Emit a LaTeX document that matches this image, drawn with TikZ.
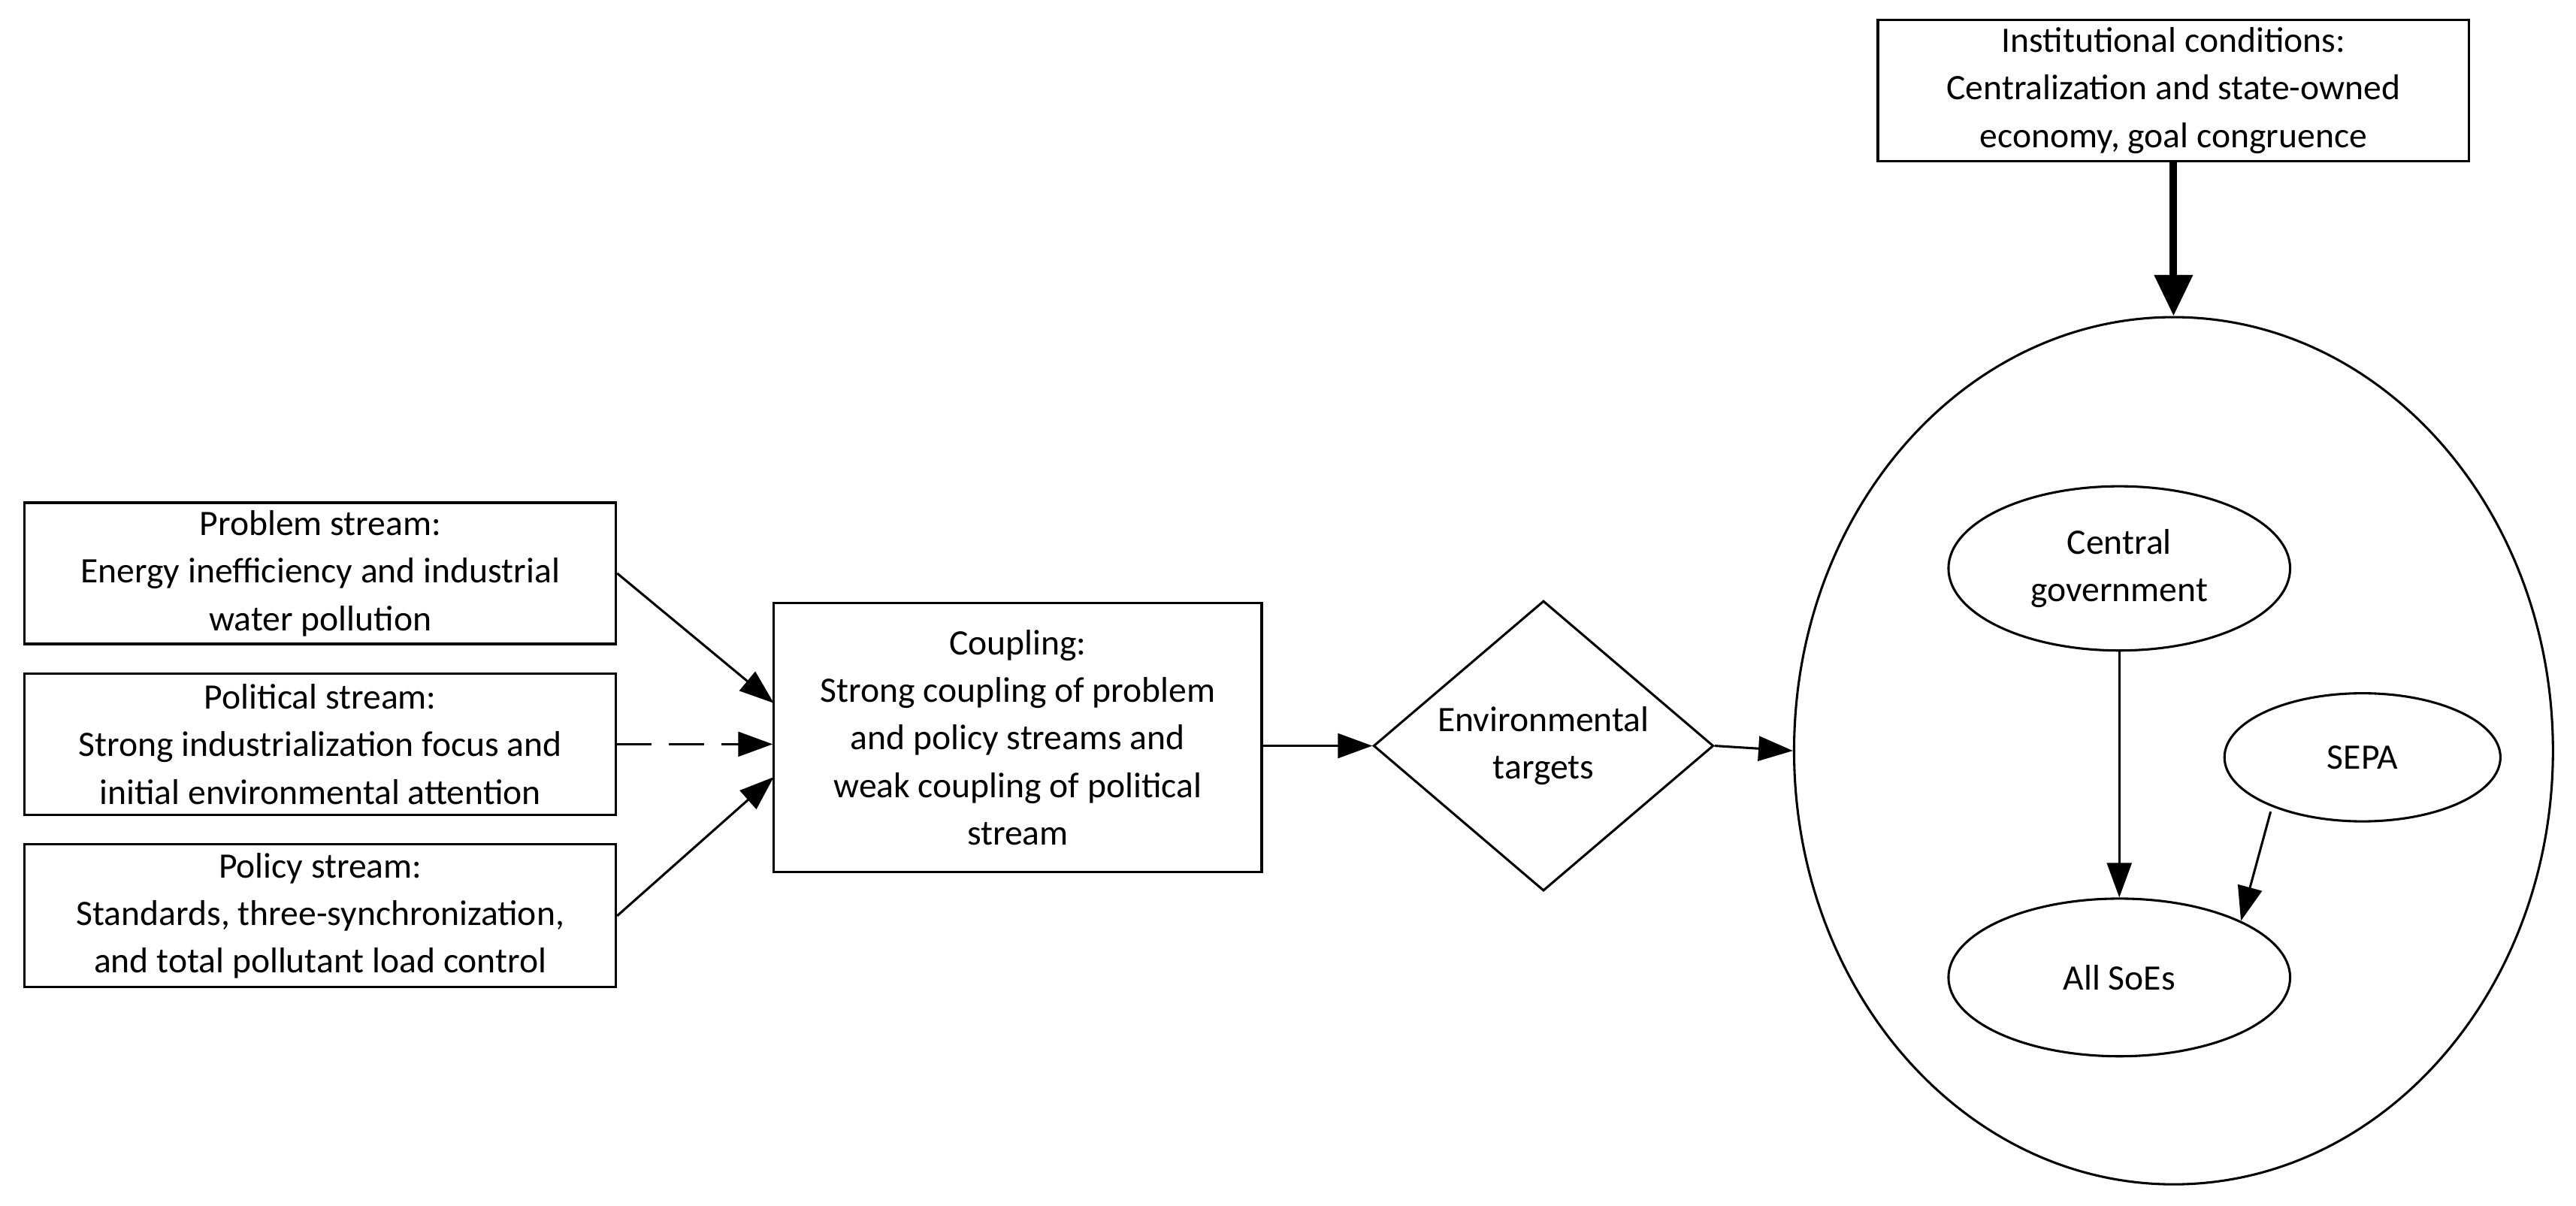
\documentclass[tikz,border=0pt]{standalone}
\usepackage{fontspec}
\setmainfont{Carlito}
\usetikzlibrary{arrows.meta,shapes.geometric}
\begin{document}
\begin{tikzpicture}[x=0.02cm,y=-0.02cm,
  font=\fontsize{12.4}{16.5}\selectfont,
  box/.style={draw,line width=0.8pt,align=center,inner sep=0pt},
  ell/.style={draw,ellipse,line width=0.8pt,align=center,inner sep=0pt},
  arr/.style={line width=0.8pt,-{Triangle[length=0.42cm,width=0.3cm]}}]
\useasboundingbox (0,0) rectangle (1568,734);
\node[box,minimum width=7.2cm,minimum height=1.72cm] (inst) at (1323,55) {Institutional conditions:\\Centralization and state-owned\\economy, goal congruence};
\node[box,minimum width=7.2cm,minimum height=1.72cm] (prob) at (195,349) {Problem stream:\\Energy inefficiency and industrial\\water pollution};
\node[box,minimum width=7.2cm,minimum height=1.72cm] (pol) at (195,453) {Political stream:\\Strong industrialization focus and\\initial environmental attention};
\node[box,minimum width=7.2cm,minimum height=1.74cm] (poli) at (195,557.5) {Policy stream:\\Standards, three-synchronization,\\and total pollutant load control};
\node[box,minimum width=5.94cm,minimum height=3.28cm] (coup) at (619.5,449) {Coupling:\\Strong coupling of problem\\and policy streams and\\weak coupling of political\\stream};
\node[draw,diamond,line width=0.8pt,minimum width=4.14cm,minimum height=3.08cm,inner sep=0pt,align=center] (env) at (939.5,454) {Environmental\\targets};
\node[ell,minimum width=9.24cm,minimum height=10.56cm] (big) at (1323,457) {};
\node[ell,minimum width=4.16cm,minimum height=2cm] (cg) at (1290,346) {Central\\government};
\node[ell,minimum width=3.36cm,minimum height=1.56cm] (sepa) at (1438,461) {SEPA};
\node[ell,minimum width=4.16cm,minimum height=1.92cm] (soe) at (1290,595) {All SoEs};
\coordinate (c1) at (471,428);
\coordinate (c3) at (471,473);
\draw[arr] (prob.east) -- (c1);
\draw[arr,dash pattern=on 12pt off 6pt] (pol.east) -- (coup.west|-pol.east);
\draw[arr] (poli.east) -- (c3);
\draw[arr] (coup.east|-0,454) -- (env.west);
\draw[arr] (env.east) -- (big.west);
\draw[line width=2.6pt,-{Triangle[length=0.5cm,width=0.45cm]}] (inst.south) -- (big.north);
\draw[arr] (cg.south) -- (soe.north);
\draw[arr] (sepa.south west) ++(4,5) -- (soe.north east);
\end{tikzpicture}
\end{document}
